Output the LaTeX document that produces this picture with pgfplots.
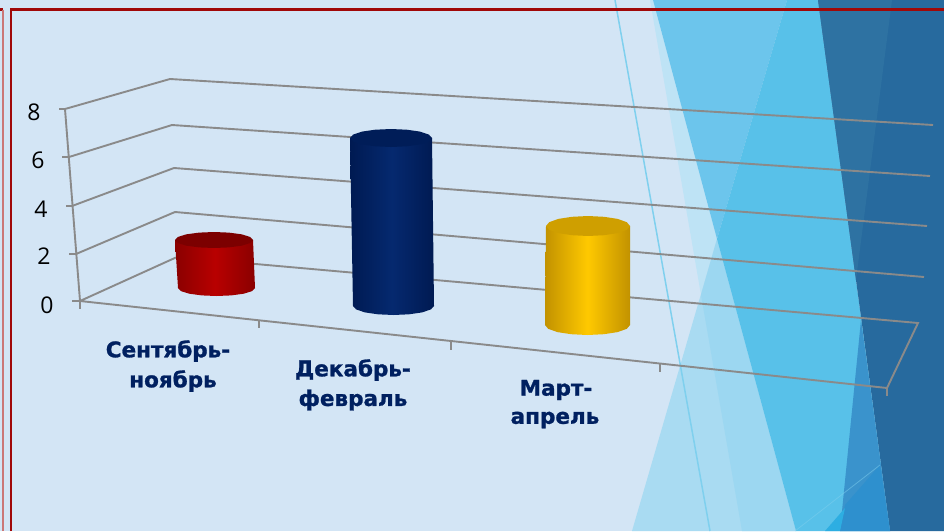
\documentclass[border=0pt]{standalone}
\usepackage{fontspec}
\setmainfont{Open Sans}
\newfontfamily\catfont[FakeBold=1.2]{DejaVu Sans Bold}
\usepackage{pgfplots}
\pgfplotsset{compat=1.18}
\definecolor{bgblue}{HTML}{D3E5F5}
\definecolor{gridc}{HTML}{8A8A8A}
\definecolor{navy}{HTML}{002060}
\definecolor{framec}{HTML}{A00808}
\definecolor{bandA}{HTML}{6CC5EC}
\definecolor{bandB}{HTML}{58C1E9}
\definecolor{bandC}{HTML}{A9DBF2}
\definecolor{bandD}{HTML}{9CD7F1}
\definecolor{bandE}{HTML}{BEE3F5}
\definecolor{deep}{HTML}{276A9E}
\definecolor{deepl}{HTML}{2E72A2}
\definecolor{tri}{HTML}{3A93CC}
\definecolor{trib}{HTML}{2E90CE}
\definecolor{tric}{HTML}{2DAEE2}
\definecolor{thinb}{HTML}{7FD0EE}
\definecolor{redE}{HTML}{8A0000}
\definecolor{redM}{HTML}{B80000}
\definecolor{redT}{HTML}{7C0000}
\definecolor{bluE}{HTML}{001A52}
\definecolor{bluM}{HTML}{05296F}
\definecolor{bluT}{HTML}{001D58}
\definecolor{yelE}{HTML}{C29200}
\definecolor{yelM}{HTML}{FFC900}
\definecolor{yelT}{HTML}{CF9F00}
\tikzset{
  gl/.style={draw=gridc, line width=1.9pt},
  tk/.style={draw=gridc, line width=1.4pt},
  catl/.style={font=\catfont\fontsize{21.5}{24}\selectfont, text=navy, anchor=center},
  numl/.style={font=\fontsize{23}{26}\selectfont, text=black, anchor=center}
}

\begin{document}
\begin{tikzpicture}
\begin{axis}[
  width=944pt, height=531pt, scale only axis,
  xmin=0, xmax=944, ymin=0, ymax=531, y dir=reverse,
  hide axis
]
% background shapes
\addplot[draw=none, fill=bgblue] coordinates {(0,0) (944,0) (944,531) (0,531)} -- cycle;
\addplot[draw=none, fill=bandE] coordinates {(650,0) (653,0) (717,239) (701,295)} -- cycle;
\addplot[draw=none, fill=bandC] coordinates {(717,239) (632,531) (796,531)} -- cycle;
\addplot[draw=none, fill=bandD] coordinates {(701,295) (717,239) (796,531) (742,531)} -- cycle;
\addplot[draw=none, fill=bandA] coordinates {(653,0) (787,0) (717,239)} -- cycle;
\addplot[draw=none, fill=bandB] coordinates {(787,0) (818,0) (890,531) (796,531) (717,239)} -- cycle;
\addplot[draw=none, fill=deep] coordinates {(818,0) (944,0) (944,531) (890,531)} -- cycle;
\addplot[draw=none, fill=deepl] coordinates {(818,0) (892,0) (856,280)} -- cycle;
\addplot[draw=none, fill=tri] coordinates {(861,320) (890,531) (840,531)} -- cycle;
\addplot[draw=none, fill=trib] coordinates {(845,505) (880,465) (890,531) (840,531)} -- cycle;
\addplot[draw=none, fill=tric] coordinates {(825,531) (845,508) (840,531)} -- cycle;
\addplot[draw=thinb, draw opacity=0.5, line width=0.8pt] coordinates {(795,531) (880,465)};
\addplot[draw=thinb, line width=1.5pt] coordinates {(615,0) (710,531)};
% frame
\addplot[draw=framec, line width=2.6pt] coordinates {(11,531) (11,9.5) (944,9.5)};
\addplot[draw=framec, line width=2.2pt] coordinates {(0,9.5) (3,9.5)};
\addplot[draw=framec!55!white, line width=2.4pt] coordinates {(3,9.5) (3,531)};
% walls and floor
\addplot[gl] coordinates {(65,109) (170,79) (933,125)};
\addplot[gl] coordinates {(69,157) (172,125) (930,176)};
\addplot[gl] coordinates {(72,206) (174,168) (927,226)};
\addplot[gl] coordinates {(76,254) (175,212) (924,277)};
\addplot[gl] coordinates {(80,301) (177,257) (918,323) (887,388) (80,301)};
\addplot[gl] coordinates {(65,109) (80,301)};
% ticks
\addplot[tk] coordinates {(59,109) (66,109)};
\addplot[tk] coordinates {(62,157) (69,157)};
\addplot[tk] coordinates {(66,206) (73,206)};
\addplot[tk] coordinates {(69,254) (76,254)};
\addplot[tk] coordinates {(72,301) (80,301)};
\addplot[tk] coordinates {(80,301) (80,309)};
\addplot[tk] coordinates {(259,320) (259,328)};
\addplot[tk] coordinates {(451,341) (451,350)};
\addplot[tk] coordinates {(660,364) (660,372)};
\addplot[tk] coordinates {(887,388) (887,396)};
% red cylinder
\addplot[draw=none, left color=redE, right color=redE, middle color=redM] coordinates {(175,240) (253,240) (255,288) (252.1,291.1) (243.7,293.7) (231.2,295.4) (216.5,296) (201.8,295.4) (189.3,293.7) (180.9,291.1) (178,288)} -- cycle;
\addplot[draw=none, fill=redT] coordinates {(253,240) (250,236.9) (241.6,234.3) (228.9,232.6) (214,232) (199.1,232.6) (186.4,234.3) (178,236.9) (175,240) (178,243.1) (186.4,245.7) (199.1,247.4) (214,248) (228.9,247.4) (241.6,245.7) (250,243.1)} -- cycle;
% blue cylinder
\addplot[draw=none, left color=bluE, right color=bluE, middle color=bluM] coordinates {(350,138) (432,138) (434,306) (430.9,309.4) (422.1,312.4) (409,314.3) (393.5,315) (378,314.3) (364.9,312.4) (356.1,309.4) (353,306)} -- cycle;
\addplot[draw=none, fill=bluT] coordinates {(432,138) (428.9,134.6) (420,131.6) (406.7,129.7) (391,129) (375.3,129.7) (362,131.6) (353.1,134.6) (350,138) (353.1,141.4) (362,144.4) (375.3,146.3) (391,147) (406.7,146.3) (420,144.4) (428.9,141.4)} -- cycle;
% yellow cylinder
\addplot[draw=none, left color=yelE, right color=yelE, middle color=yelM] coordinates {(546,226) (630,226) (630,325) (626.8,328.8) (617.5,332.1) (603.8,334.2) (587.5,335) (571.2,334.2) (557.5,332.1) (548.2,328.8) (545,325)} -- cycle;
\addplot[draw=none, fill=yelT] coordinates {(630,226) (626.8,222.2) (617.7,218.9) (604.1,216.8) (588,216) (571.9,216.8) (558.3,218.9) (549.2,222.2) (546,226) (549.2,229.8) (558.3,233.1) (571.9,235.2) (588,236) (604.1,235.2) (617.7,233.1) (626.8,229.8)} -- cycle;
% labels
\node[numl] at (axis cs:34,112) {8};
\node[numl] at (axis cs:38,160) {6};
\node[numl] at (axis cs:41,209) {4};
\node[numl] at (axis cs:44,256) {2};
\node[numl] at (axis cs:47,305) {0};
\node[catl] at (axis cs:168,351) {Сентябрь-};
\node[catl] at (axis cs:173,381) {ноябрь};
\node[catl] at (axis cs:353,370) {Декабрь-};
\node[catl] at (axis cs:353,400) {февраль};
\node[catl] at (axis cs:556,390) {Март-};
\node[catl] at (axis cs:555,420) {апрель};
\end{axis}
\end{tikzpicture}
\end{document}
